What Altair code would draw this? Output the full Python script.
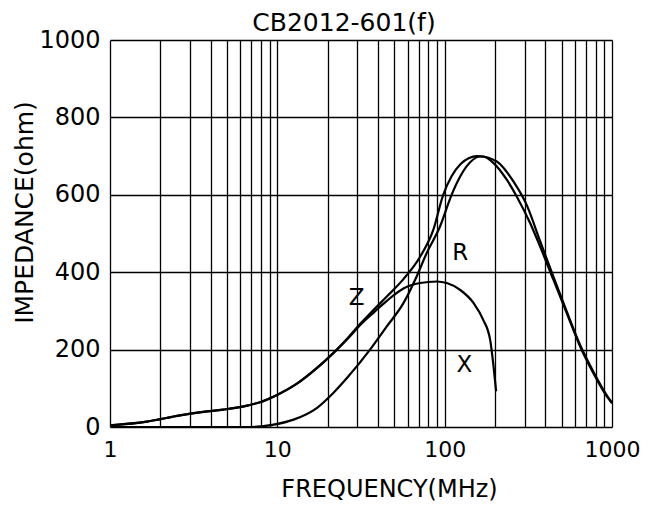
import altair as alt
import pandas as pd

# --- data ---
z_freq = [1, 1.66, 2.62, 3.61, 4.76, 6.71, 7.88, 10.1, 13.1, 17.2, 21.6, 26.6, 31.2, 37.5,
          45.1, 56.7, 71.3, 85.6, 98, 110, 125, 140, 156, 170, 196, 235, 270, 324, 372, 447,
          537, 645, 774, 931, 1000]
z_val = [4, 14, 30, 39, 45, 56, 64, 84, 112, 152, 191, 232, 266, 302,
         337, 382, 440, 510, 600, 648, 680, 695, 700, 699, 682, 639, 595, 527, 466, 380,
         294, 208, 139, 79, 62]

r_freq = [1, 3, 6.9, 9.5, 12.5, 17.2, 21.6, 26.6, 35.8, 45.1, 56.7, 68, 78, 93.8, 110,
          124, 142, 163, 205, 258, 309, 372, 447, 537, 645, 774, 931, 1000]
r_val = [0, 0, 0, 6, 19, 49, 88, 131, 200, 260, 320, 389, 449, 518, 600,
         648, 684, 699, 686, 634, 574, 480, 388, 298, 212, 143, 82, 62]

x_freq = [1, 1.66, 2.62, 3.61, 4.76, 6.71, 7.88, 10.1, 13.1, 17.2, 21.6, 26.6, 31.2, 37.5,
          45.1, 56.7, 71.3, 89.8, 103, 124, 149, 170, 187, 196, 203]
x_val = [4, 14, 30, 39, 45, 56, 64, 84, 112, 152, 191, 230, 263, 295,
         326, 358, 372, 376, 372, 354, 320, 277, 225, 156, 92]

label_text = ["Z", "R", "X"]
label_freq = [29.8, 124, 131]
label_val = [333, 449, 161]

x_ticks = [1, 2, 3, 4, 5, 6, 7, 8, 9, 10, 20, 30, 40, 50, 60, 70, 80, 90,
           100, 200, 300, 400, 500, 600, 700, 800, 900, 1000]
y_ticks = [0, 200, 400, 600, 800, 1000]

rows = []
for name, fs, vs in (("Z", z_freq, z_val), ("R", r_freq, r_val), ("X", x_freq, x_val)):
    for i, (f, v) in enumerate(zip(fs, vs)):
        rows.append({"series": name, "freq": f, "imp": v, "order": i})
df = pd.DataFrame(rows)
labels = pd.DataFrame({"text": label_text, "freq": label_freq, "imp": label_val})

FONT = "DejaVu Sans"

xscale = alt.Scale(type="log", domain=[1, 1000], nice=False)
yscale = alt.Scale(domain=[0, 1000], nice=False)

xaxis = alt.Axis(
    title="FREQUENCY(MHz)", values=x_ticks,
    labelExpr="indexof([1,10,100,1000], datum.value) >= 0 ? datum.value + '' : ''",
    grid=True, gridColor="black", gridOpacity=1, gridWidth=1.3,
    ticks=False, domain=False, labelOverlap=False, labelFlush=False, labelBound=False,
    labelPadding=12, labelFontSize=22, labelFont=FONT, labelColor="black",
    titleFontSize=24, titleFont=FONT, titleFontWeight="normal", titleColor="black",
    titleX=279, titleY=62, titleAlign="center", titleBaseline="middle",
)
yaxis = alt.Axis(
    title="IMPEDANCE(ohm)", values=y_ticks, format="d",
    grid=True, gridColor="black", gridOpacity=1, gridWidth=1.3,
    ticks=False, domain=False, labelOverlap=False, labelFlush=False,
    labelPadding=10, labelFontSize=24, labelFont=FONT, labelColor="black",
    titleFontSize=25, titleFont=FONT, titleFontWeight="normal", titleColor="black",
    titleX=-86, titleY=172, titleAlign="center", titleBaseline="middle",
)

lines = alt.Chart(df).mark_line(interpolate="monotone", strokeWidth=2.2, clip=True).encode(
    x=alt.X("freq:Q", scale=xscale, axis=xaxis),
    y=alt.Y("imp:Q", scale=yscale, axis=yaxis),
    color=alt.Color("series:N", scale=alt.Scale(range=["black", "black", "black"]), legend=None),
    order="order:Q",
)

texts = alt.Chart(labels).mark_text(fontSize=23, font=FONT, color="black").encode(
    x=alt.X("freq:Q", scale=xscale),
    y=alt.Y("imp:Q", scale=yscale),
    text="text:N",
)

chart = alt.layer(lines, texts).properties(
    width=502, height=387,
    title=alt.TitleParams("CB2012-601(f)", fontSize=25, font=FONT, fontWeight="normal",
                          color="black", anchor="middle", dx=-17, dy=12, offset=4),
    autosize=alt.AutoSizeParams(type="none"),
    padding={"left": 102, "top": 32, "right": 28, "bottom": 75},
).configure_view(
    stroke="black", strokeWidth=1.5
).configure(background="white")

chart.save("out.html", embed_options={"renderer": "svg", "actions": False})
